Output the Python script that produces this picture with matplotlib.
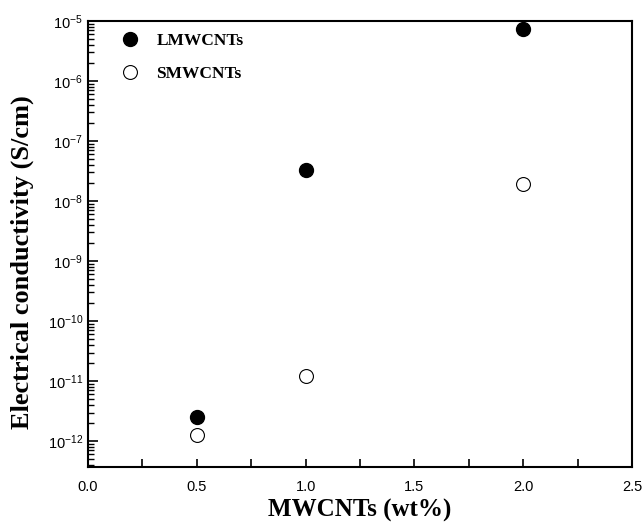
import matplotlib
matplotlib.use("Agg")
import matplotlib.pyplot as plt
import numpy as np
from matplotlib.ticker import FixedLocator, MultipleLocator, NullFormatter

plt.rcParams["font.family"] = "Liberation Sans"
plt.rcParams["mathtext.default"] = "regular"

# Datos
wt = [0.5, 1.0, 2.0]
lmwcnt = [2.5e-12, 3.3e-8, 7.5e-6]
smwcnt = [1.25e-12, 1.2e-11, 1.9e-8]

fig = plt.figure(figsize=(6.44, 5.26), dpi=100)
ax = fig.add_axes([0.1366, 0.112, 0.8448, 0.848])

ax.plot(wt, lmwcnt, "o", color="black", markersize=10, label="LMWCNTs")
ax.plot(wt, smwcnt, "o", markerfacecolor="white", markeredgecolor="black",
        markeredgewidth=0.8, markersize=10, label="SMWCNTs")

ax.set_yscale("log")
ax.set_xlim(0.0, 2.5)
ax.set_ylim(3.7e-13, 1e-5)

ax.set_xticks([0.0, 0.5, 1.0, 1.5, 2.0, 2.5])
ax.xaxis.set_minor_locator(MultipleLocator(0.25))

# ticks de decada solo dentro del rango visible
decades = range(-12, -4)
ax.yaxis.set_major_locator(FixedLocator([10.0 ** e for e in decades]))
minor = [m * 10.0 ** e for e in range(-13, -5) for m in range(2, 10)]
minor = [v for v in minor if 3.7e-13 <= v <= 1e-5]
ax.yaxis.set_minor_locator(FixedLocator(minor))
ax.yaxis.set_minor_formatter(NullFormatter())

ax.tick_params(axis="both", which="both", direction="in", top=False, right=False)
ax.tick_params(axis="y", which="major", length=7, width=1.2, labelsize=10.5)
ax.tick_params(axis="y", which="minor", length=4, width=1.0)
ax.tick_params(axis="x", which="major", length=6, width=1.2, labelsize=10.5, pad=9)
ax.tick_params(axis="x", which="minor", length=6, width=1.2)

for sp in ax.spines.values():
    sp.set_linewidth(1.5)

ax.set_xlabel("MWCNTs (wt%)", family="Liberation Serif", fontweight="bold",
              fontsize=18, labelpad=4)
ax.set_ylabel("Electrical conductivity (S/cm)", family="Liberation Serif",
              fontweight="bold", fontsize=19)
ax.yaxis.set_label_coords(-0.10, 0.46)

ax.legend(loc="upper left", bbox_to_anchor=(0.032, 0.989), borderaxespad=0,
          frameon=False, handlelength=2.0, handletextpad=0.54, labelspacing=0.95,
          prop={"family": "Liberation Serif", "weight": "bold", "size": 12.5})

fig.savefig("out.png", dpi=100)
